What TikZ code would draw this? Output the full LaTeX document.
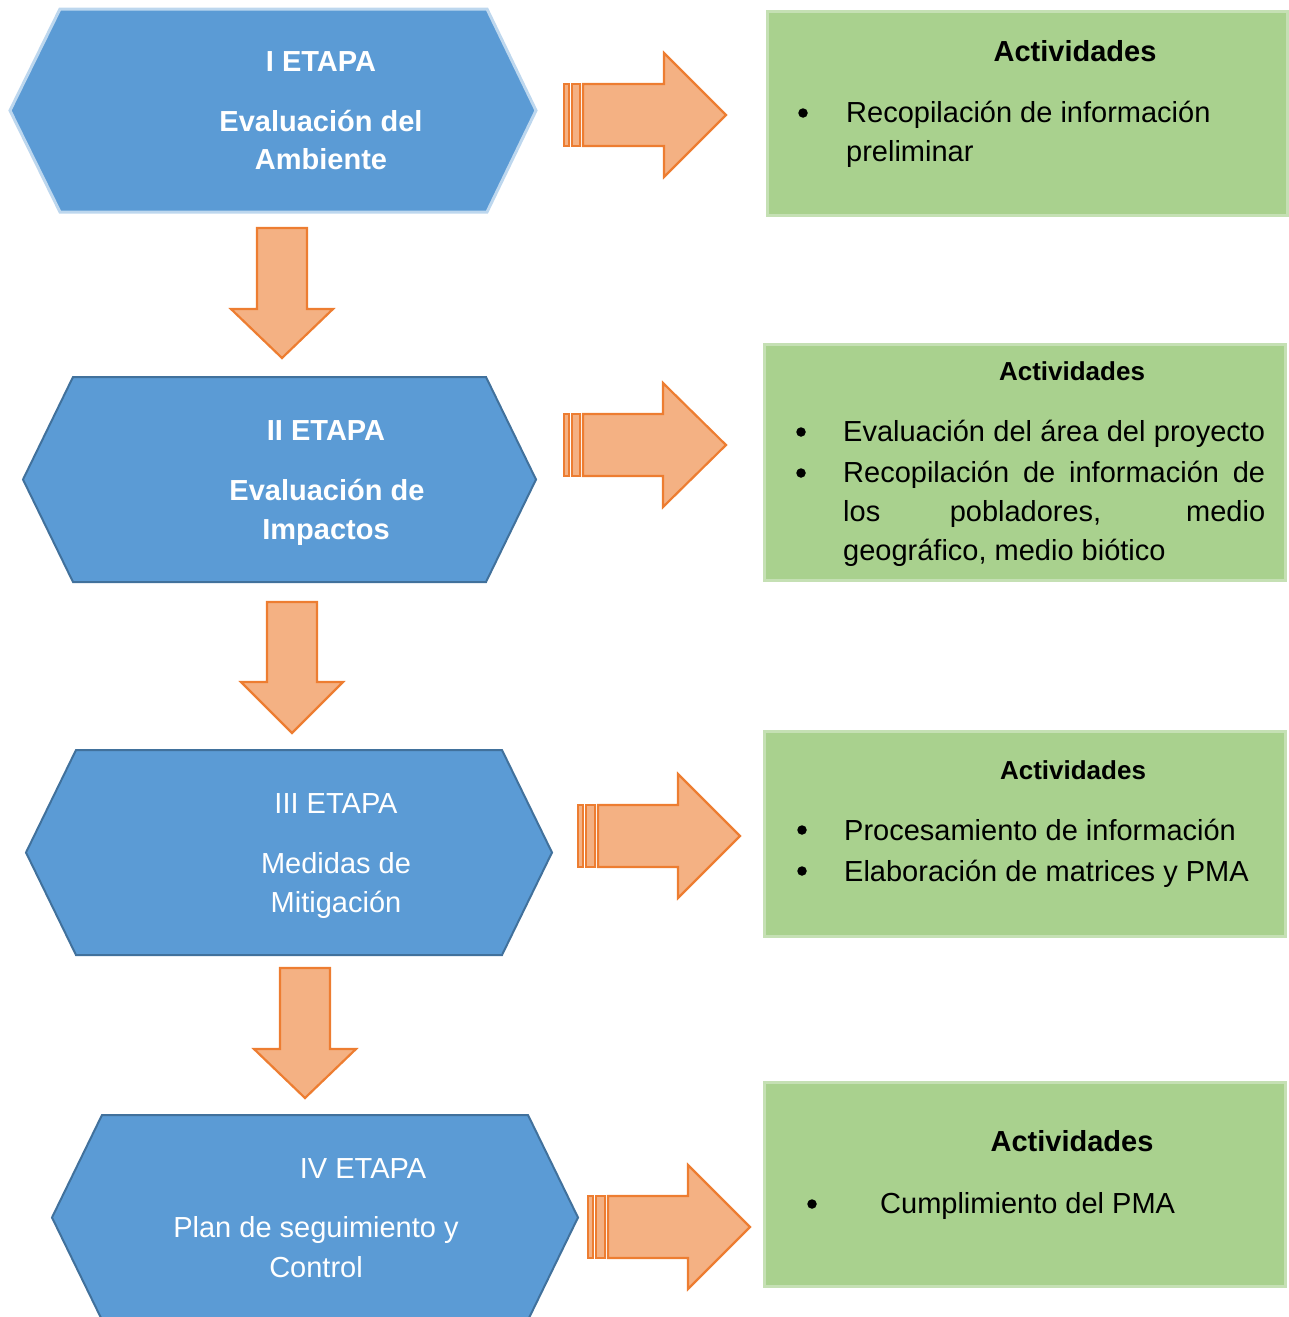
\documentclass[tikz,border=0pt]{standalone}
\usepackage{fontspec}
\setmainfont{Liberation Sans}
\definecolor{hexfill}{HTML}{5B9BD5}
\definecolor{hexline}{HTML}{41719C}
\definecolor{hexlight}{HTML}{BDD7EE}
\definecolor{arrfill}{HTML}{F4B183}
\definecolor{arrline}{HTML}{ED7D31}
\definecolor{actfill}{HTML}{A9D18E}
\definecolor{actline}{HTML}{C5E0B4}
\tikzset{
  hexshape/.style={fill=hexfill, draw=hexline, line width=2pt, line join=miter},
  blockarrow/.style={fill=arrfill, draw=arrline, line width=2.2pt, line join=miter},
  actbox/.style={fill=actfill, draw=actline, line width=3pt},
  stagetxt/.style={text=white, inner sep=0pt, anchor=base, font=\fontsize{29}{34}\selectfont},
  stagebold/.style={stagetxt, font=\fontsize{29}{34}\selectfont\bfseries},
  acthead/.style={inner sep=0pt, anchor=base, font=\fontsize{29}{34}\selectfont\bfseries},
  actheadsm/.style={inner sep=0pt, anchor=base, font=\fontsize{26}{30}\selectfont\bfseries},
  actline/.style={inner sep=0pt, anchor=base west, font=\fontsize{29}{34}\selectfont},
  bul/.style={circle, fill=black, inner sep=0pt, minimum size=9.5pt},
}
% hexagon: top-left x, top-right x, top y, bottom y, left tip x, right tip x
\newcommand{\stagehex}[7][]{%
  \pgfmathsetmacro{\midy}{(#4+#5)/2}
  \draw[hexshape,#1] (#2,#4) -- (#3,#4) -- (#7,\midy) -- (#3,#5) -- (#2,#5) -- (#6,\midy) -- cycle;}
% right block arrow with two stripes: stripe x, body x, head x, tip x, tip y
\newcommand{\rightblock}[5]{%
  \draw[blockarrow] (#2,#5-31) -- (#3,#5-31) -- (#3,#5-62) -- (#4,#5) -- (#3,#5+62) -- (#3,#5+31) -- (#2,#5+31) -- cycle;
  \draw[blockarrow] (#1,#5-31) rectangle (#1+5,#5+31);
  \draw[blockarrow] (#1+8,#5-31) rectangle (#2-3,#5+31);}
% down block arrow: centre x, top y, head y, tip y
\newcommand{\downblock}[4]{%
  \draw[blockarrow] (#1-25,#2) -- (#1+25,#2) -- (#1+25,#3) -- (#1+51,#3) -- (#1,#4) -- (#1-51,#3) -- (#1-25,#3) -- cycle;}
\begin{document}
\begin{tikzpicture}[x=1pt,y=-1pt]
\useasboundingbox (0,0) rectangle (1288,1317);

% ---- stages ----
\stagehex[draw=hexlight, line width=3pt]{60}{487}{9}{212}{10}{536}
\stagehex{73}{486}{377}{582}{23}{536}
\stagehex{76}{502}{750}{955}{26}{552}
\stagehex{102}{528}{1115}{1320}{52}{578}

\node[stagebold] (s1a) at (321,71) {I ETAPA};
\node[stagebold] (s1b) at (321,131) {Evaluación del};
\node[stagebold] (s1c) at (321,169) {Ambiente};

\node[stagebold] (s2a) at (326,440) {II ETAPA};
\node[stagebold] (s2b) at (327,500) {Evaluación de};
\node[stagebold] (s2c) at (326,539) {Impactos};

\node[stagetxt] (s3a) at (336,813) {III ETAPA};
\node[stagetxt] (s3b) at (336,873) {Medidas de};
\node[stagetxt] (s3c) at (336,912) {Mitigación};

\node[stagetxt] (s4a) at (363,1178) {IV ETAPA};
\node[stagetxt] (s4b) at (316,1237) {Plan de seguimiento y};
\node[stagetxt] (s4c) at (316,1277) {Control};

% ---- downward arrows between stages ----
\downblock{282}{228}{309}{358}
\downblock{292}{602}{682}{733}
\downblock{305}{968}{1049}{1098}

% ---- arrows towards the activities ----
\rightblock{564}{583}{664}{726}{115}
\rightblock{564}{583}{663}{726}{445}
\rightblock{578}{598}{678}{740}{836}
\rightblock{588}{608}{688}{750}{1227}

% ---- activity boxes ----
\draw[actbox] (767,11) rectangle (1287,215);
\draw[actbox] (764,344) rectangle (1285,580);
\draw[actbox] (764,731) rectangle (1285,936);
\draw[actbox] (764,1082) rectangle (1285,1286);

\node[acthead] (a1) at (1075,61) {Actividades};
\node[bul] (b11) at (803,113) {};
\node[actline] (t11) at (846,122) {Recopilación de información};
\node[actline] (t12) at (846,161) {preliminar};

\node[actheadsm] (a2) at (1072,380) {Actividades};
\node[bul] (b21) at (801,432) {};
\node[bul] (b22) at (801,473) {};
\node[actline] (t21) at (843,441) {\makebox[422pt][s]{Evaluación del área del proyecto}};
\node[actline] (t22) at (843,482) {\makebox[422pt][s]{Recopilación de información de}};
\node[actline] (t23) at (843,521) {\makebox[422pt][s]{los pobladores, medio}};
\node[actline] (t24) at (843,560) {geográfico, medio biótico};

\node[actheadsm] (a3) at (1073,779) {Actividades};
\node[bul] (b31) at (802,830) {};
\node[bul] (b32) at (802,871) {};
\node[actline] (t31) at (844,840) {Procesamiento de información};
\node[actline] (t32) at (844,881) {Elaboración de matrices y PMA};

\node[acthead] (a4) at (1072,1151) {Actividades};
\node[bul] (b41) at (812,1204) {};
\node[actline] (t41) at (880,1213) {Cumplimiento del PMA};
\end{tikzpicture}
\end{document}
